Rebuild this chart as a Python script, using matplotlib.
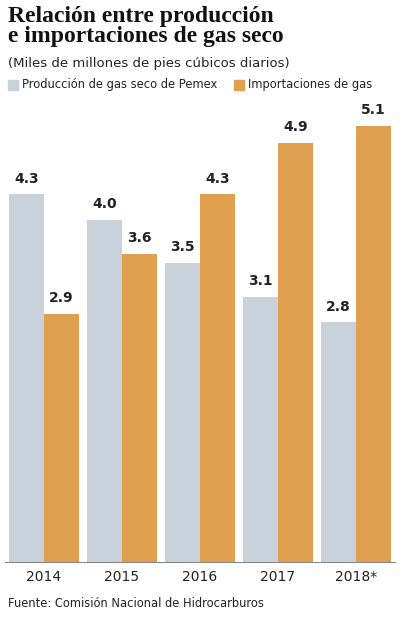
import matplotlib
matplotlib.use("Agg")
import matplotlib.pyplot as plt
import numpy as np

years = ["2014", "2015", "2016", "2017", "2018*"]
produccion = [4.3, 4.0, 3.5, 3.1, 2.8]
importaciones = [2.9, 3.6, 4.3, 4.9, 5.1]

grey = "#c9d1db"
orange = "#dfa04f"

fig = plt.figure(figsize=(4.04, 6.2), dpi=100)
ax = fig.add_axes([0.012, 1 - 562/620, 0.978 - 0.012, (562 - 100)/620])
x = np.arange(len(years))
w = 0.45
ax.bar(x - w/2, produccion, w, color=grey)
ax.bar(x + w/2, importaciones, w, color=orange)
for xi, p, i in zip(x, produccion, importaciones):
    ax.text(xi - w/2, p + 0.1, f"{p:.1f}", ha="center", va="bottom", fontsize=10, fontweight="bold", color="#222")
    ax.text(xi + w/2, i + 0.1, f"{i:.1f}", ha="center", va="bottom", fontsize=10, fontweight="bold", color="#222")
ax.set_xlim(-0.5, len(years) - 0.5)
ax.set_ylim(0, 5.4)
ax.set_xticks(x)
ax.set_xticklabels(years, fontsize=10, color="#222")
ax.tick_params(axis="x", length=0, pad=6)
ax.set_yticks([])
for s in ["top", "right", "left"]:
    ax.spines[s].set_visible(False)
ax.spines["bottom"].set_color("#888")

fig.text(0.02, 0.99, "Relación entre producción\ne importaciones de gas seco",
         ha="left", va="top", fontsize=17, fontweight="bold", family="Liberation Serif",
         linespacing=0.9, color="#111")
fig.text(0.02, 0.908, "(Miles de millones de pies cúbicos diarios)", ha="left", va="top",
         fontsize=9.5, color="#222")
fig.patches.append(plt.Rectangle((0.02, 0.855), 0.025, 0.016, color=grey, transform=fig.transFigure))
fig.text(0.055, 0.863, "Producción de gas seco de Pemex", ha="left", va="center", fontsize=8.3, color="#222")
fig.patches.append(plt.Rectangle((0.58, 0.855), 0.025, 0.016, color=orange, transform=fig.transFigure))
fig.text(0.615, 0.863, "Importaciones de gas", ha="left", va="center", fontsize=8.3, color="#222")
fig.text(0.02, 0.027, "Fuente: Comisión Nacional de Hidrocarburos", ha="left", va="center",
         fontsize=8.3, color="#222")
fig.savefig("out.png", dpi=100, facecolor="white")
